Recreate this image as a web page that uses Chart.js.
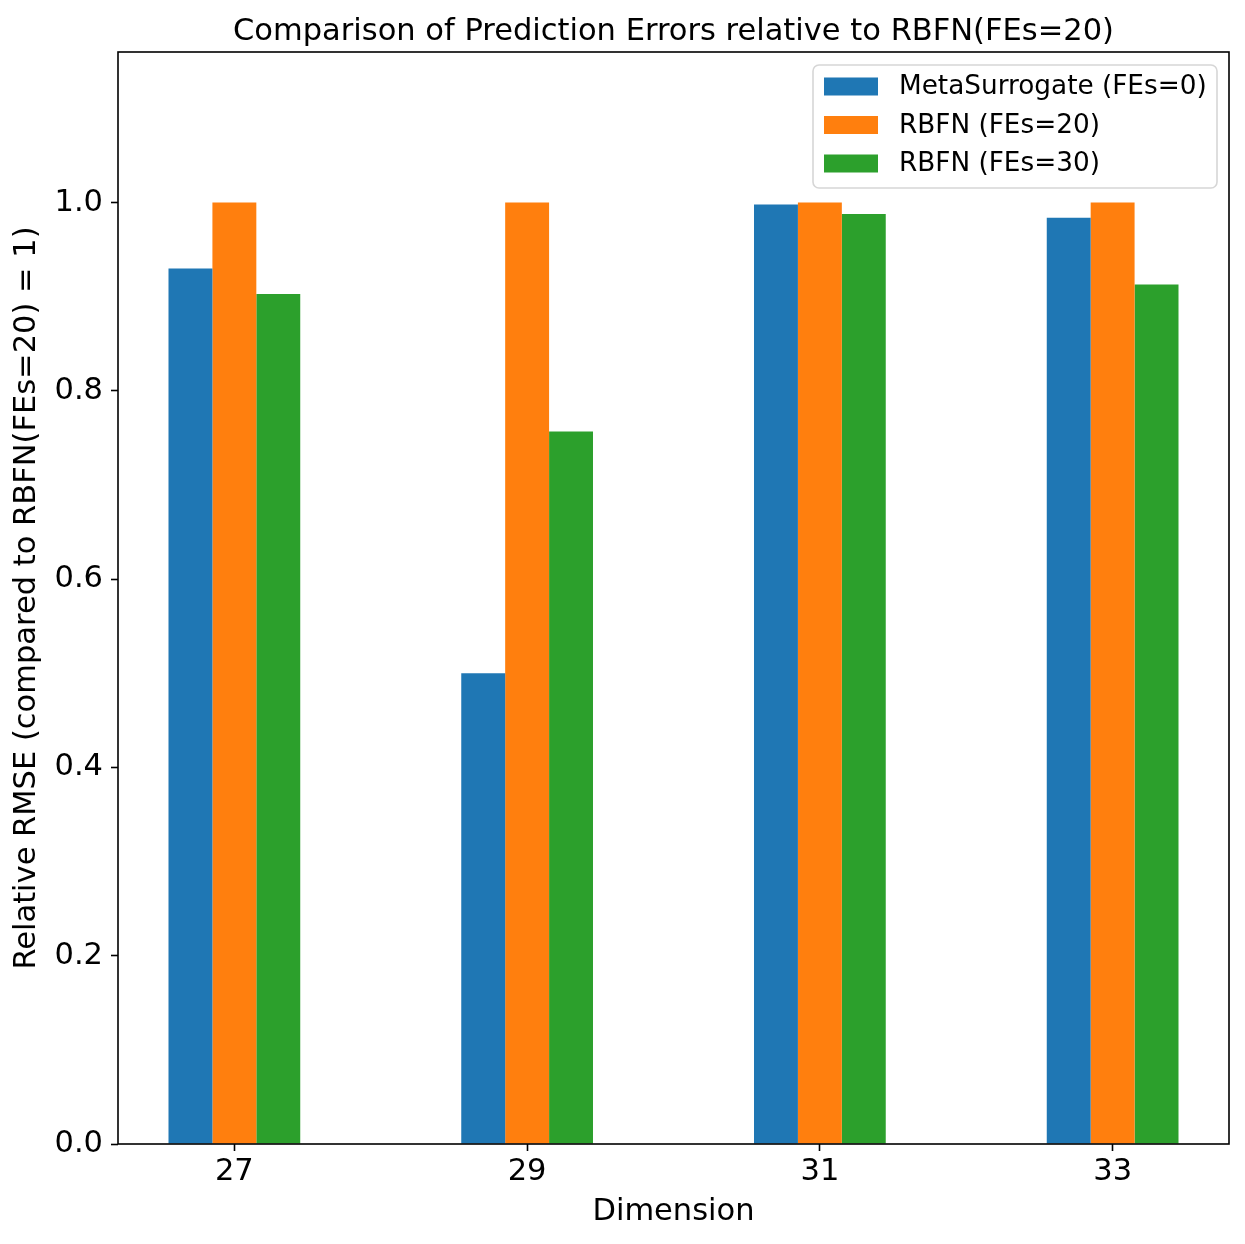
<!DOCTYPE html>
<html>
<head>
<meta charset="utf-8">
<script src="https://cdn.jsdelivr.net/npm/chart.js@4"></script>
<style>
html,body{margin:0;padding:0;background:#fff;}
#wrap{width:1245px;height:1244px;}
</style>
</head>
<body>
<div id="wrap"><canvas id="c" width="1245" height="1244"></canvas></div>
<script>
const categories = [27, 29, 31, 33];
const metaSurrogate = [0.930, 0.500, 0.998, 0.984];
const rbfn20 = [1.0, 1.0, 1.0, 1.0];
const rbfn30 = [0.903, 0.757, 0.988, 0.913];
const seriesLabels = ['MetaSurrogate (FEs=0)', 'RBFN (FEs=20)', 'RBFN (FEs=30)'];
const yTicks = [0, 0.2, 0.4, 0.6, 0.8, 1.0];

const FONT = 'DejaVu Sans';
const FS = 30.5, LFS = 26.3;
const lo = Math.min(...categories) - 0.45, hi = Math.max(...categories) + 0.45;
const xm = 0.05 * (hi - lo);

const toPts = arr => arr.map((v, i) => ({x: categories[i], y: v}));

const framePlugin = {
  id: 'frame',
  afterDraw(chart) {
    const ctx = chart.ctx, a = chart.chartArea;
    ctx.save();
    ctx.strokeStyle = '#000';
    ctx.lineWidth = 1.6;
    ctx.strokeRect(a.left, a.top, a.right - a.left, a.bottom - a.top);
    ctx.fillStyle = '#000';
    ctx.font = FS + 'px "' + FONT + '"';
    ctx.textAlign = 'center';
    ctx.textBaseline = 'alphabetic';
    ctx.fillText('Comparison of Prediction Errors relative to RBFN(FEs=20)', (a.left + a.right) / 2, 40);
    const bw = 404, bh = 123;
    const bx = a.right - 12 - bw, by = a.top + 13;
    ctx.beginPath();
    if (ctx.roundRect) ctx.roundRect(bx, by, bw, bh, 6); else ctx.rect(bx, by, bw, bh);
    ctx.fillStyle = 'rgba(255,255,255,0.8)';
    ctx.fill();
    ctx.strokeStyle = 'rgba(204,204,204,0.8)';
    ctx.lineWidth = 1.6;
    ctx.stroke();
    ctx.font = LFS + 'px "' + FONT + '"';
    ctx.textAlign = 'left';
    ctx.textBaseline = 'middle';
    chart.data.datasets.forEach((ds, i) => {
      const cy = by + 21.5 + i * 38.5;
      ctx.fillStyle = ds.backgroundColor;
      ctx.fillRect(bx + 11, cy - 9, 54, 18);
      ctx.fillStyle = '#000';
      ctx.fillText(ds.label, bx + 86, cy + 1);
    });
    ctx.restore();
  }
};

new Chart(document.getElementById('c'), {
  type: 'bar',
  data: {
    datasets: [
      {label: seriesLabels[0], data: toPts(metaSurrogate), backgroundColor: '#1f77b4'},
      {label: seriesLabels[1], data: toPts(rbfn20), backgroundColor: '#ff7f0e'},
      {label: seriesLabels[2], data: toPts(rbfn30), backgroundColor: '#2ca02c'}
    ]
  },
  options: {
    responsive: false,
    animation: false,
    devicePixelRatio: 1,
    layout: {padding: {top: 52, right: 16, left: 0, bottom: 0}},
    datasets: {bar: {categoryPercentage: 0.45, barPercentage: 1.0, borderWidth: 0}},
    plugins: {legend: {display: false}, title: {display: false}, tooltip: {enabled: false}},
    scales: {
      x: {
        type: 'linear',
        offset: false,
        min: lo - xm,
        max: hi + xm,
        afterBuildTicks: s => { s.ticks = categories.map(v => ({value: v})); },
        afterFit: s => { s.height = 100; },
        grid: {display: true, offset: false, drawOnChartArea: false, drawTicks: true, tickLength: 7, tickColor: '#000', tickWidth: 1.6},
        border: {display: false},
        ticks: {color: '#000', font: {family: FONT, size: FS, lineHeight: 1.2}, padding: 3, maxRotation: 0, autoSkip: false, callback: v => String(v)},
        title: {display: true, text: 'Dimension', color: '#000', font: {family: FONT, size: FS, lineHeight: 1.2}, padding: {top: 0, bottom: 14}}
      },
      y: {
        type: 'linear',
        min: 0,
        max: 1.16,
        afterBuildTicks: s => { s.ticks = yTicks.map(v => ({value: v})); },
        afterFit: s => { s.width = 118; },
        grid: {display: true, drawOnChartArea: false, drawTicks: true, tickLength: 7, tickColor: '#000', tickWidth: 1.6},
        border: {display: false},
        ticks: {color: '#000', font: {family: FONT, size: FS, lineHeight: 1.2}, padding: 8, callback: v => Number(v).toFixed(1)},
        title: {display: true, text: 'Relative RMSE (compared to RBFN(FEs=20) = 1)', color: '#000', font: {family: FONT, size: FS, lineHeight: 1.2}, padding: {top: 9, bottom: 0}}
      }
    }
  },
  plugins: [framePlugin]
});
</script>
</body>
</html>
